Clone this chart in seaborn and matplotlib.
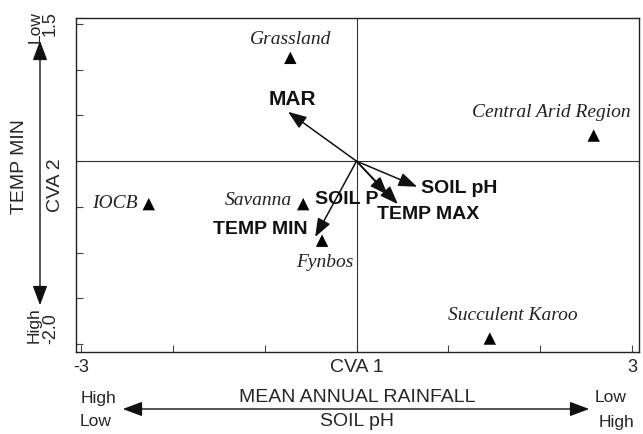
import matplotlib
matplotlib.use("Agg")
import matplotlib.pyplot as plt
import seaborn as sns
import pandas as pd

# Group centroids (CVA scores)
regions = ["Grassland", "Central Arid Region", "IOCB", "Savanna", "Fynbos", "Succulent Karoo"]
cva1 = [-0.72, 2.58, -2.26, -0.58, -0.375, 1.45]
cva2 = [1.13, 0.28, -0.47, -0.47, -0.87, -1.94]

# Environmental vectors
variables = ["MAR", "TEMP MIN", "SOIL pH", "SOIL P", "TEMP MAX"]
vec1 = [-0.745, -0.45, 0.66, 0.34, 0.45]
vec2 = [0.54, -0.83, -0.28, -0.37, -0.47]

x_ticks = [-3, -2, -1, 0, 1, 2, 3]
y_ticks = [-2.0, -1.5, -1.0, -0.5, 0.0, 0.5, 1.0, 1.5]

sns.set_style("ticks")
plt.rcParams["font.family"] = ["Liberation Sans", "DejaVu Sans"]

W, H = 643, 434
fig = plt.figure(figsize=(W / 100, H / 100), dpi=100)
ax = fig.add_axes([75.5 / W, 1 - 351.7 / H, (639 - 75.5) / W, (351.7 - 17.7) / H])

df = pd.DataFrame({"region": regions, "CVA1": cva1, "CVA2": cva2})
sns.scatterplot(data=df, x="CVA1", y="CVA2", marker="^", color="black", s=80,
                edgecolor="none", legend=False, ax=ax, zorder=4)

ax.set_xlim(-3.057, 3.073)
ax.set_ylim(-2.084, 1.569)
ax.axhline(0, color="#333333", lw=0.8, zorder=1)
ax.axvline(0, color="#333333", lw=0.8, zorder=1)

for sp in ax.spines.values():
    sp.set_visible(True)
    sp.set_linewidth(1.0)
    sp.set_color("#222222")

ax.set_xticks(x_ticks)
ax.set_xticklabels(["-3", "", "", "", "", "", "3"])
ax.set_yticks(y_ticks)
ax.set_yticklabels(["-2.0", "", "", "", "", "", "", "1.5"], rotation=90)
ax.tick_params(axis="both", direction="in", length=5, width=0.8, color="#444444",
               labelsize=13)
ax.tick_params(axis="x", pad=5)
ax.tick_params(axis="y", pad=12)
for lab in ax.get_yticklabels():
    lab.set_va("center")
ax.get_yticklabels()[0].set_va("bottom")

ax.set_xlabel("CVA 1", fontsize=14)
ax.xaxis.set_label_coords(0.5, -0.046)
ax.xaxis.label.set_va("center")
ax.set_ylabel("CVA 2", fontsize=14)
ax.yaxis.set_label_coords((55 - 75.5) / (639 - 75.5), 0.5)
ax.yaxis.label.set_va("center")

# region labels
serif = dict(family=["Liberation Serif", "DejaVu Serif"], style="italic", fontsize=14, color="#222222")
label_pos = {
    "Grassland": (-0.72, 1.33, "center"),
    "Central Arid Region": (2.98, 0.53, "right"),
    "IOCB": (-2.38, -0.46, "right"),
    "Savanna": (-0.70, -0.43, "right"),
    "Fynbos": (-0.35, -1.11, "center"),
    "Succulent Karoo": (1.70, -1.69, "center"),
}
for r in regions:
    lx, ly, ha = label_pos[r]
    ax.text(lx, ly, r, ha=ha, va="center", **serif)

# vectors
for v, vx, vy in zip(variables, vec1, vec2):
    ax.annotate("", xy=(vx, vy), xytext=(0, 0),
                arrowprops=dict(arrowstyle="-|>,head_length=0.75,head_width=0.28",
                                mutation_scale=15, lw=1.1, color="#111111",
                                shrinkA=0, shrinkB=0), zorder=3)

vec_lab = {
    "MAR": (-0.70, 0.67, "center", 15),
    "TEMP MIN": (-0.53, -0.75, "right", 14),
    "SOIL pH": (0.70, -0.30, "left", 14),
    "SOIL P": (-0.45, -0.42, "left", 14),
    "TEMP MAX": (0.22, -0.585, "left", 14),
}
for v in variables:
    lx, ly, ha, fs = vec_lab[v]
    ax.text(lx, ly, v, ha=ha, va="center", fontsize=fs, fontweight="bold", color="#111111", zorder=5)

# outside annotations (figure pixel coordinates)
def fx(px):
    return px / W

def fy(py):
    return 1 - py / H

fig.text(fx(20), fy(167), "TEMP MIN", rotation=90, ha="center", va="center", fontsize=14)
fig.text(fx(35), fy(27), "Low", rotation=90, ha="center", va="center", fontsize=12.5)
fig.text(fx(34), fy(325), "High", rotation=90, ha="center", va="center", fontsize=12.5)
fig.patches.append(matplotlib.patches.FancyArrowPatch(
    (fx(40), fy(308)), (fx(40), fy(38)), transform=fig.transFigure,
    arrowstyle="<|-|>,head_length=0.8,head_width=0.3", mutation_scale=15,
    lw=1.0, color="#111111"))

fig.text(fx(357), fy(397), "MEAN ANNUAL RAINFALL", ha="center", va="center", fontsize=14)
fig.text(fx(357), fy(422), "SOIL pH", ha="center", va="center", fontsize=14)
fig.text(fx(98), fy(399), "High", ha="center", va="center", fontsize=12.5)
fig.text(fx(96), fy(422), "Low", ha="center", va="center", fontsize=12.5)
fig.text(fx(611), fy(398), "Low", ha="center", va="center", fontsize=12.5)
fig.text(fx(617), fy(423), "High", ha="center", va="center", fontsize=12.5)
fig.patches.append(matplotlib.patches.FancyArrowPatch(
    (fx(120), fy(409)), (fx(592), fy(409)), transform=fig.transFigure,
    arrowstyle="<|-|>,head_length=0.8,head_width=0.3", mutation_scale=15,
    lw=1.0, color="#111111"))

fig.savefig("out.png", dpi=100)
